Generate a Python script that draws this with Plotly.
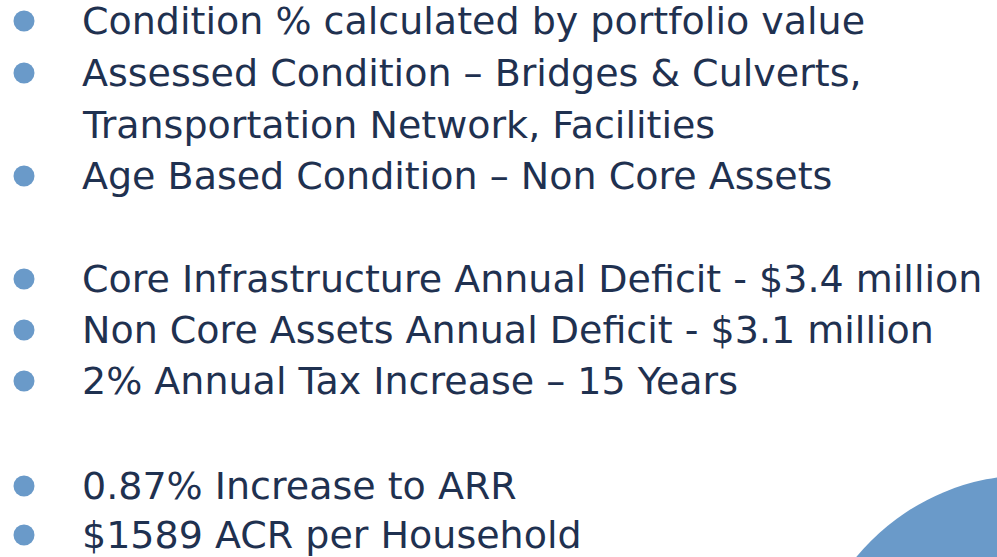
import plotly.graph_objects as go

# Slide content
lines = [
    "Condition % calculated by portfolio value",
    "Assessed Condition – Bridges & Culverts,",
    "Transportation Network, Facilities",
    "Age Based Condition – Non Core Assets",
    "Core Infrastructure Annual Deficit - $3.4 million",
    "Non Core Assets Annual Deficit - $3.1 million",
    "2% Annual Tax Increase – 15 Years",
    "0.87% Increase to ARR",
    "$1589 ACR per Household",
]
has_bullet = [True, True, False, True, True, True, True, True, True]
line_y = [21, 73, 125, 176, 279, 330, 381, 486, 535]

TEXT_COLOR = "#1F3150"
BULLET_COLOR = "#6A9AC9"

fig = go.Figure()

bx = [24 for b in has_bullet if b]
by = [y for y, b in zip(line_y, has_bullet) if b]
fig.add_trace(go.Scatter(
    x=bx, y=by, mode="markers",
    marker=dict(size=21, color=BULLET_COLOR, line=dict(width=0)),
    hoverinfo="skip", showlegend=False, cliponaxis=False,
))

for t, y in zip(lines, line_y):
    fig.add_annotation(
        x=80, y=y, text=t, showarrow=False, xanchor="left", yanchor="middle",
        font=dict(family="DejaVu Sans, Verdana, sans-serif", size=38, color=TEXT_COLOR),
        xref="x", yref="y",
    )

# Decorative circle at bottom right
cx, cy, r = 1030, 700, 225
fig.add_shape(type="circle", xref="x", yref="y",
              x0=cx - r, x1=cx + r, y0=cy - r, y1=cy + r,
              fillcolor=BULLET_COLOR, line=dict(width=0), layer="below")

fig.update_layout(
    width=997, height=557,
    margin=dict(l=0, r=0, t=0, b=0),
    paper_bgcolor="white", plot_bgcolor="white",
    xaxis=dict(range=[0, 997], visible=False, fixedrange=True),
    yaxis=dict(range=[557, 0], visible=False, fixedrange=True),
    showlegend=False,
)

fig.write_html(
    "out.html",
    config={"displayModeBar": False},
    post_script="document.body.style.margin='0';document.body.style.overflow='hidden';",
)
